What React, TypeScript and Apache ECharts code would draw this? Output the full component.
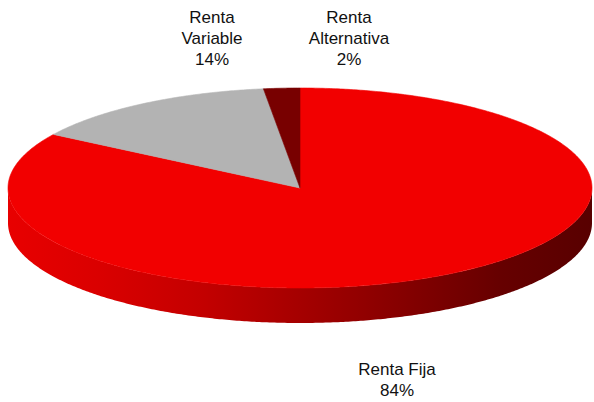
import React, { useEffect, useRef } from "react";
import * as echarts from "echarts";

// ---- data ----
const categories = ["Renta Fija", "Renta Variable", "Renta Alternativa"];
const values = [84, 14, 2];
const wrapLabel = [false, true, true];

// ---- layout / style ----
const CX = 300;
const CY = 188;
const RX = 292;
const RY = 100;
const DEPTH = 35;
const START_DEG = -90;
const topColors = ["#F20000", "#B3B3B3", "#780000"];
const LABEL_POS: [number, number][] = [
  [397, 359],
  [212, 7],
  [349, 7],
];

function arcPoints(a0: number, a1: number, dy: number): number[][] {
  const pts: number[][] = [];
  const steps = Math.max(2, Math.ceil(Math.abs(a1 - a0) / 0.5));
  for (let k = 0; k <= steps; k++) {
    const a = ((a0 + ((a1 - a0) * k) / steps) * Math.PI) / 180;
    pts.push([CX + RX * Math.cos(a), CY + RY * Math.sin(a) + dy]);
  }
  return pts;
}

export default function App() {
  const ref = useRef<HTMLDivElement>(null);

  useEffect(() => {
    if (!ref.current) return;
    const chart = echarts.init(ref.current, null, { renderer: "svg" });
    const total = values.reduce((s, v) => s + v, 0);

    const sideGradient = {
      type: "linear",
      x: 8,
      y: 0,
      x2: 593,
      y2: 0,
      global: true,
      colorStops: [
        { offset: 0, color: "#E80000" },
        { offset: 0.157, color: "#DA0000" },
        { offset: 0.328, color: "#C40000" },
        { offset: 0.499, color: "#A50000" },
        { offset: 0.67, color: "#860000" },
        { offset: 0.841, color: "#660000" },
        { offset: 1, color: "#580000" },
      ],
    };

    const renderItem = (params: any, api: any) => {
      const idx = params.dataIndex;
      const v = api.value(0);
      let before = 0;
      for (let i = 0; i < idx; i++) before += values[i];
      const a0 = START_DEG + (360 * before) / total;
      const a1 = a0 + (360 * v) / total;

      const children: any[] = [];
      // visible side (front half: 0..180 deg, also 360..540 for wrap)
      for (const [lo, hi] of [
        [0, 180],
        [360, 540],
      ]) {
        const s0 = Math.max(a0, lo);
        const s1 = Math.min(a1, hi);
        if (s1 > s0) {
          const topArc = arcPoints(s0, s1, 0);
          const botArc = arcPoints(s1, s0, DEPTH);
          children.push({
            type: "polygon",
            shape: { points: topArc.concat(botArc) },
            style: { fill: sideGradient, stroke: null },
          });
        }
      }
      // top face
      const topPts = [[CX, CY]].concat(arcPoints(a0, a1, 0));
      children.push({
        type: "polygon",
        shape: { points: topPts },
        style: {
          fill: topColors[idx],
          stroke: topColors[idx],
          lineWidth: 0.6,
        },
      });
      // label
      const name = categories[idx];
      const nameText = wrapLabel[idx] ? name.split(" ").join("\n") : name;
      children.push({
        type: "text",
        style: {
          text: nameText + "\n" + v + "%",
          x: LABEL_POS[idx][0],
          y: LABEL_POS[idx][1],
          fill: "#111111",
          fontSize: 17,
          fontFamily: "Liberation Sans, Arial, sans-serif",
          lineHeight: 21,
          align: "center",
          verticalAlign: "top",
        },
      });
      return { type: "group", children };
    };

    chart.setOption({
      animation: false,
      backgroundColor: "#FFFFFF",
      series: [
        {
          type: "custom",
          coordinateSystem: "none",
          silent: true,
          renderItem,
          data: values.map((v, i) => ({ value: [v], name: categories[i] })),
        },
      ],
    });

    return () => chart.dispose();
  }, []);

  return (
    <div
      ref={ref}
      style={{ position: "fixed", left: 0, top: 0, width: 594, height: 402 }}
    />
  );
}
